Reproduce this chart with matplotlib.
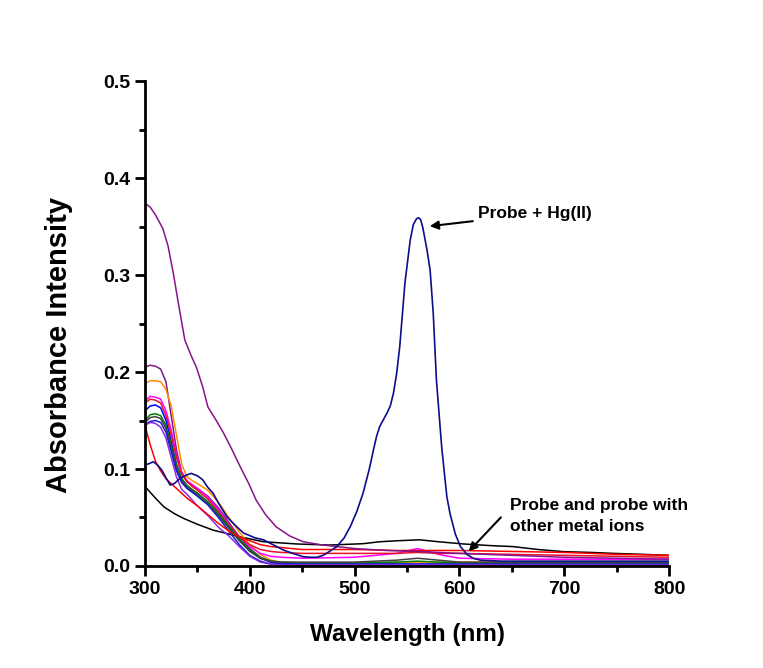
import matplotlib.pyplot as plt
from matplotlib.ticker import MultipleLocator

plt.rcParams['font.family'] = ['Liberation Sans', 'DejaVu Sans']
plt.rcParams['font.weight'] = 'bold'

# Probe + Hg(II)
wl_hg = [300, 305, 308, 312, 316, 320, 324, 328, 333, 338, 344, 350, 355, 360,
         365, 370, 378, 386, 394, 405, 413, 422, 432, 441, 451, 458, 464, 470,
         476, 483, 490, 496, 502, 508, 514, 518, 521, 524, 528, 531, 534, 537,
         540, 543, 548, 553, 556, 559, 561, 563, 565, 569, 572, 575, 578, 583,
         588, 591, 596, 601, 607, 613, 620, 640, 700, 750, 800]
abs_hg = [0.104, 0.106, 0.1075, 0.104, 0.099, 0.091, 0.0835, 0.085, 0.090, 0.093,
          0.0955, 0.093, 0.089, 0.081, 0.075, 0.065, 0.051, 0.042, 0.034, 0.029,
          0.027, 0.022, 0.0165, 0.013, 0.0096, 0.009, 0.009, 0.011, 0.015, 0.020,
          0.029, 0.041, 0.056, 0.075, 0.100, 0.120, 0.134, 0.144, 0.152, 0.158,
          0.165, 0.178, 0.198, 0.226, 0.292, 0.336, 0.352, 0.358, 0.359, 0.357,
          0.349, 0.326, 0.305, 0.260, 0.192, 0.123, 0.071, 0.054, 0.033, 0.020,
          0.012, 0.008, 0.006, 0.005, 0.005, 0.005, 0.005]

# probe alone
wl_probe = [300, 310, 318, 328, 337, 350, 365, 380, 391, 413, 445, 476, 508, 524,
            540, 562, 580, 604, 630, 651, 675, 699, 725, 747, 775, 800]
abs_probe = [0.082, 0.070, 0.061, 0.054, 0.049, 0.043, 0.037, 0.033, 0.030, 0.025,
             0.0227, 0.0216, 0.023, 0.025, 0.026, 0.027, 0.025, 0.0227, 0.021, 0.020,
             0.017, 0.0148, 0.014, 0.013, 0.012, 0.011]

# tall purple trace
wl_purple = [300, 305, 310, 317, 322, 327, 332, 338, 344, 349, 355, 360, 368, 375,
             383, 391, 399, 406, 415, 425, 438, 451, 467, 483, 500, 530, 560, 600,
             650, 700, 750, 800]
abs_purple = [0.374, 0.370, 0.362, 0.348, 0.330, 0.302, 0.270, 0.233, 0.217, 0.205,
              0.185, 0.164, 0.150, 0.137, 0.120, 0.102, 0.085, 0.068, 0.053, 0.0405,
              0.031, 0.025, 0.022, 0.020, 0.018, 0.016, 0.015, 0.013, 0.011, 0.009,
              0.008, 0.007]

# other metal ions, common grid
wl = [300, 305, 310, 315, 320, 325, 330, 335, 340, 345, 350, 360, 370, 380, 390,
      400, 410, 420, 430, 450, 500, 540, 560, 580, 600, 650, 700, 750, 800]
ions = {
    'purple2': [0.205, 0.207, 0.206, 0.203, 0.190, 0.155, 0.120, 0.096, 0.087, 0.083,
                0.080, 0.072, 0.060, 0.045, 0.030, 0.018, 0.009, 0.004, 0.002, 0.001,
                0.001, 0.001, 0.001, 0.001, 0.001, 0.001, 0.001, 0.001, 0.001],
    'orange': [0.188, 0.191, 0.191, 0.190, 0.182, 0.165, 0.135, 0.105, 0.092, 0.088,
               0.085, 0.078, 0.066, 0.050, 0.035, 0.022, 0.012, 0.006, 0.004, 0.003,
               0.003, 0.004, 0.004, 0.004, 0.004, 0.004, 0.004, 0.004, 0.004],
    'magenta': [0.170, 0.175, 0.174, 0.172, 0.160, 0.140, 0.115, 0.097, 0.088, 0.084,
                0.080, 0.071, 0.058, 0.043, 0.030, 0.020, 0.013, 0.010, 0.009, 0.008,
                0.009, 0.013, 0.018, 0.012, 0.008, 0.007, 0.007, 0.007, 0.007],
    'red2': [0.168, 0.172, 0.171, 0.168, 0.155, 0.135, 0.112, 0.095, 0.087, 0.082,
             0.078, 0.069, 0.056, 0.042, 0.030, 0.022, 0.017, 0.015, 0.014, 0.013,
             0.013, 0.013, 0.014, 0.013, 0.013, 0.012, 0.011, 0.010, 0.009],
    'blue': [0.160, 0.165, 0.166, 0.163, 0.150, 0.128, 0.105, 0.090, 0.083, 0.078,
             0.075, 0.066, 0.054, 0.040, 0.027, 0.016, 0.008, 0.004, 0.003, 0.002,
             0.002, 0.002, 0.002, 0.002, 0.002, 0.002, 0.002, 0.002, 0.002],
    'green': [0.150, 0.156, 0.157, 0.155, 0.145, 0.125, 0.104, 0.090, 0.083, 0.079,
              0.075, 0.066, 0.054, 0.041, 0.028, 0.017, 0.009, 0.005, 0.004, 0.003,
              0.003, 0.004, 0.005, 0.004, 0.003, 0.003, 0.003, 0.003, 0.003],
    'dark': [0.148, 0.153, 0.154, 0.152, 0.142, 0.122, 0.101, 0.088, 0.081, 0.077,
             0.073, 0.064, 0.052, 0.039, 0.026, 0.015, 0.008, 0.005, 0.004, 0.004,
             0.004, 0.006, 0.008, 0.006, 0.004, 0.004, 0.004, 0.004, 0.004],
    'blue2': [0.146, 0.149, 0.150, 0.148, 0.138, 0.118, 0.098, 0.086, 0.080, 0.076,
              0.072, 0.063, 0.050, 0.036, 0.022, 0.011, 0.005, 0.002, 0.002, 0.002,
              0.002, 0.002, 0.002, 0.002, 0.002, 0.002, 0.002, 0.002, 0.002],
    'violet': [0.145, 0.148, 0.147, 0.143, 0.132, 0.112, 0.092, 0.079, 0.074, 0.068,
               0.062, 0.052, 0.040, 0.031, 0.020, 0.010, 0.004, 0.002, 0.001, 0.001,
               0.001, 0.001, 0.001, 0.001, 0.001, 0.001, 0.001, 0.001, 0.001],
    'red': [0.145, 0.125, 0.108, 0.098, 0.090, 0.085, 0.080, 0.075, 0.070, 0.066,
            0.062, 0.053, 0.044, 0.036, 0.030, 0.026, 0.022, 0.020, 0.019, 0.017,
            0.017, 0.016, 0.016, 0.016, 0.016, 0.015, 0.014, 0.012, 0.011],
}
ion_colors = {
    'purple2': '#7d1b86', 'orange': '#ff8c00', 'magenta': '#ff00ff', 'red2': '#e8102a',
    'blue': '#0000ff', 'green': '#008000', 'dark': '#404040', 'blue2': '#1a1ad0',
    'violet': '#8a2be2', 'red': '#ff0000',
}

fig = plt.figure(figsize=(7.63, 6.68), dpi=100)
ax = fig.add_axes([0.190, 0.1527, 0.687, 0.726])

ax.plot(wl_probe, abs_probe, color='black', lw=1.1)
for name, vals in ions.items():
    ax.plot(wl, vals, color=ion_colors[name], lw=1.1)
ax.plot(wl_purple, abs_purple, color='#87138c', lw=1.1)
ax.plot(wl_hg, abs_hg, color='#0d0d8c', lw=1.2)

ax.set_xlim(300, 800)
ax.set_ylim(0, 0.5)
ax.xaxis.set_major_locator(MultipleLocator(100))
ax.xaxis.set_minor_locator(MultipleLocator(50))
ax.yaxis.set_major_locator(MultipleLocator(0.1))
ax.yaxis.set_minor_locator(MultipleLocator(0.05))
ax.yaxis.set_major_formatter(plt.FormatStrFormatter('%.1f'))
for s in ['top', 'right']:
    ax.spines[s].set_visible(False)
for s in ['left', 'bottom']:
    ax.spines[s].set_linewidth(2)
ax.tick_params(which='major', direction='out', length=7, width=2, labelsize=14)
ax.tick_params(which='minor', direction='out', length=4, width=2)
for lab in ax.get_xticklabels() + ax.get_yticklabels():
    lab.set_fontweight('bold')

ax.set_xlabel('Wavelength (nm)', fontsize=17.5, fontweight='bold', labelpad=18)
ax.set_ylabel('Absorbance Intensity', fontsize=21, fontweight='bold')
ax.yaxis.set_label_coords(-0.137, 0.456)

ax.annotate('Probe + Hg(II)', xy=(569, 0.350), xytext=(618, 0.363),
            fontsize=12.5, fontweight='bold', va='center', ha='left',
            arrowprops=dict(arrowstyle='-|>', color='black', lw=1.5))
ax.annotate('Probe and probe with\nother metal ions', xy=(607, 0.013),
            xytext=(648, 0.052), fontsize=12.5, fontweight='bold', va='center',
            ha='left', linespacing=1.5,
            arrowprops=dict(arrowstyle='-|>', color='black', lw=1.5,
                            shrinkA=0, relpos=(-0.05, 0.45)))

fig.savefig('out.png', dpi=100)
